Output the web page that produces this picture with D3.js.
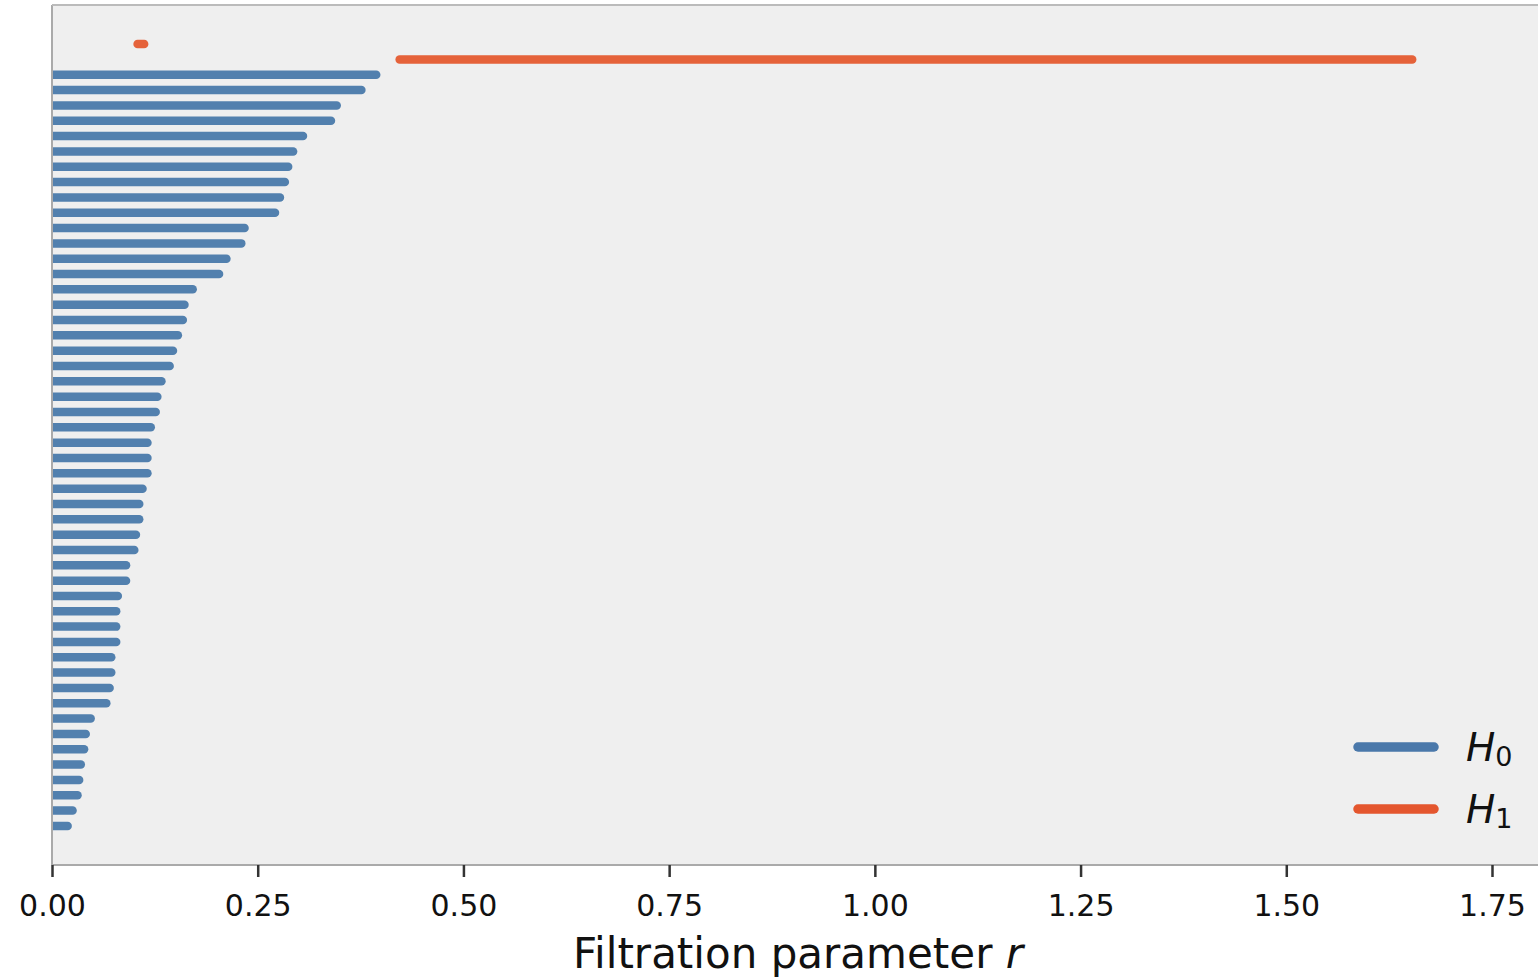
<!DOCTYPE html>
<html>
<head>
<meta charset="utf-8">
<script src="https://cdn.jsdelivr.net/npm/d3@7"></script>
<style>
  body { margin: 0; background: #fff; }
  svg { display: block; }
</style>
</head>
<body>
<div id="grafiek"></div>
<script>
// Death values of the H0 bars (all born at r = 0), top to bottom.
const h0Deaths = [
  0.394, 0.376, 0.346, 0.339, 0.305, 0.293, 0.287, 0.283, 0.277, 0.271,
  0.234, 0.230, 0.212, 0.203, 0.171, 0.161, 0.159, 0.153, 0.147, 0.143,
  0.133, 0.128, 0.126, 0.120, 0.116, 0.116, 0.116, 0.110, 0.106, 0.106,
  0.102, 0.100, 0.090, 0.090, 0.080, 0.078, 0.078, 0.078, 0.072, 0.072,
  0.070, 0.066, 0.047, 0.041, 0.039, 0.035, 0.033, 0.031, 0.025, 0.019
];
// H1 bars (birth, death), drawn above the H0 bars.
const h1Births = [0.104, 0.4225];
const h1Deaths = [0.112, 1.653];

const xTicks = [0, 0.25, 0.5, 0.75, 1.0, 1.25, 1.5, 1.75];
const legendLabels = ["0", "1"];
const xLabel = "Filtration parameter ";

const blue = "#5280ae", orange = "#e5623a";
const blueLegend = "#4a78aa", orangeLegend = "#e4562e";

// Afmetingen
const W = 1538, H = 979;
const margin = { top: 5, left: 52, bottom: 114 };
const plotRight = 1544;
const plotBottom = H - margin.bottom;

// bars in one list: H1 first, then H0
const bars = [];
h1Births.forEach((b, i) => bars.push({ birth: b, death: h1Deaths[i], dim: 1 }));
h0Deaths.forEach(d => bars.push({ birth: 0, death: d, dim: 0 }));
const n = bars.length - 1;

const x = d3.scaleLinear().domain([0, 1.8132]).range([margin.left, plotRight]);
const y = d3.scaleLinear().domain([-0.05 * n, n * 1.05]).range([margin.top, plotBottom]);

const svg = d3.select("#grafiek").append("svg")
  .attr("width", W).attr("height", H);

svg.append("defs").append("clipPath").attr("id", "clip")
  .append("rect")
  .attr("x", margin.left).attr("y", margin.top)
  .attr("width", plotRight - margin.left).attr("height", plotBottom - margin.top);

svg.append("rect")
  .attr("x", margin.left).attr("y", margin.top)
  .attr("width", plotRight - margin.left).attr("height", plotBottom - margin.top)
  .attr("fill", "#efefef");

// bars
svg.append("g").attr("clip-path", "url(#clip)")
  .selectAll("line")
  .data(bars)
  .enter()
  .append("line")
    .attr("x1", d => x(d.birth))
    .attr("x2", d => x(d.death))
    .attr("y1", (d, i) => y(i))
    .attr("y2", (d, i) => y(i))
    .attr("stroke", d => d.dim === 0 ? blue : orange)
    .attr("stroke-width", 8.5)
    .attr("stroke-linecap", "round");

// spines
const spine = svg.append("g").attr("stroke", "#aaaaaa").attr("stroke-width", 2);
spine.append("line").attr("x1", margin.left).attr("x2", margin.left)
  .attr("y1", margin.top).attr("y2", plotBottom);
spine.append("line").attr("x1", margin.left).attr("x2", plotRight)
  .attr("y1", margin.top).attr("y2", margin.top).attr("stroke", "#bbbbbb");
spine.append("line").attr("x1", margin.left).attr("x2", plotRight)
  .attr("y1", plotBottom).attr("y2", plotBottom);

// x axis
const xAxis = svg.append("g")
  .attr("transform", `translate(0, ${plotBottom})`)
  .call(d3.axisBottom(x).tickValues(xTicks).tickFormat(d3.format(".2f"))
    .tickSize(12).tickPadding(18));
xAxis.select(".domain").remove();
xAxis.selectAll(".tick line").attr("stroke", "#333").attr("stroke-width", 2.5);
xAxis.selectAll(".tick text")
  .attr("fill", "#111")
  .style("font-family", "DejaVu Sans")
  .style("font-size", "30px");

const lab = svg.append("text")
  .attr("x", 798).attr("y", 968)
  .attr("text-anchor", "middle")
  .style("font-family", "DejaVu Sans")
  .style("font-size", "42px")
  .attr("fill", "#111");
lab.append("tspan").text(xLabel);
lab.append("tspan").style("font-style", "italic").text("r");

// legend
const legend = svg.append("g");
const legendRows = [
  { color: blueLegend, sub: legendLabels[0], y: 747 },
  { color: orangeLegend, sub: legendLabels[1], y: 809 }
];
legendRows.forEach(r => {
  legend.append("line")
    .attr("x1", 1358).attr("x2", 1434)
    .attr("y1", r.y).attr("y2", r.y)
    .attr("stroke", r.color).attr("stroke-width", 9.5)
    .attr("stroke-linecap", "round");
  const t = legend.append("text")
    .attr("x", 1466).attr("y", r.y + 14)
    .style("font-family", "DejaVu Sans")
    .style("font-size", "39px")
    .attr("fill", "#111");
  t.append("tspan").style("font-style", "italic").text("H");
  t.append("tspan").attr("dy", 5).style("font-size", "27px").text(r.sub);
});
</script>
</body>
</html>
